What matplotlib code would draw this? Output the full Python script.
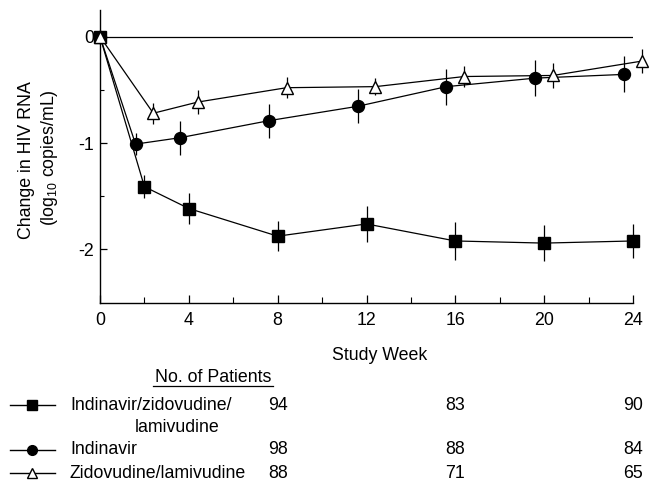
import numpy as np
import matplotlib
matplotlib.use('Agg')
import matplotlib.pyplot as plt
from matplotlib.lines import Line2D
from matplotlib.transforms import blended_transform_factory

plt.rcParams['font.family'] = ['Liberation Sans', 'DejaVu Sans']
plt.rcParams['mathtext.fontset'] = 'custom'
plt.rcParams['mathtext.rm'] = 'Liberation Sans'
plt.rcParams['axes.unicode_minus'] = False

# Indinavir/zidovudine/lamivudine (squares)
weeks_sq = [0, 2, 4, 8, 12, 16, 20, 24]
rna_sq = [0, -1.41, -1.615, -1.875, -1.76, -1.92, -1.94, -1.92]
err_sq = [0, 0.11, 0.15, 0.14, 0.17, 0.18, 0.17, 0.16]

# Indinavir (circles)
weeks_ci = [0, 1.6, 3.6, 7.6, 11.6, 15.6, 19.6, 23.6]
rna_ci = [0, -1.01, -0.95, -0.79, -0.655, -0.47, -0.39, -0.355]
err_ci = [0, 0.10, 0.16, 0.16, 0.16, 0.17, 0.17, 0.17]

# Zidovudine/lamivudine (triangles)
weeks_tr = [0, 2.4, 4.4, 8.4, 12.4, 16.4, 20.4, 24.4]
rna_tr = [0, -0.72, -0.615, -0.48, -0.47, -0.375, -0.365, -0.23]
err_tr = [0, 0.10, 0.11, 0.10, 0.08, 0.10, 0.12, 0.11]

# Patient counts table
group_names = ['Indinavir/zidovudine/', 'Indinavir', 'Zidovudine/lamivudine']
count_weeks = [8, 16, 24]
counts = [[94, 83, 90], [98, 88, 84], [88, 71, 65]]

W, H = 661, 483
fig = plt.figure(figsize=(W / 100, H / 100), dpi=100)
ax = fig.add_axes([100 / W, 1 - 302.7 / H, 533 / W, 292.7 / H])

def fx(px):
    return px / W

def fy(py):
    return 1 - py / H

fs = 12.8
lw = 0.9

# zero reference line
ax.plot([0, 24], [0, 0], color='black', lw=lw, zorder=1)

ax.errorbar(weeks_ci, rna_ci, yerr=err_ci, fmt='-o', color='black', ms=8.6,
            lw=lw, elinewidth=lw, capsize=0, clip_on=False, zorder=3)
ax.errorbar(weeks_sq, rna_sq, yerr=err_sq, fmt='-s', color='black', ms=8.6,
            lw=lw, elinewidth=lw, capsize=0, clip_on=False, zorder=4)
ax.errorbar(weeks_tr, rna_tr, yerr=err_tr, fmt='-^', color='black', mfc='white',
            mec='black', mew=1.0, ms=8, lw=lw, elinewidth=lw, capsize=0,
            clip_on=False, zorder=5)

ax.set_xlim(0, 24)
ax.set_ylim(-2.5, 0.25)
ax.spines['top'].set_visible(False)
ax.spines['right'].set_visible(False)
ax.spines['left'].set_linewidth(1.0)
ax.spines['bottom'].set_linewidth(1.0)

ax.set_xticks(np.arange(0, 25, 4))
ax.set_xticks(np.arange(2, 24, 4), minor=True)
ax.set_yticks([0, -1, -2])
ax.set_yticklabels(['0', '-1', '-2'])
ax.set_yticks([-0.5, -1.5], minor=True)
ax.tick_params(axis='x', which='major', direction='in', length=6, width=0.9,
               labelsize=fs, pad=7)
ax.tick_params(axis='x', which='minor', direction='in', length=4, width=0.8)
ax.tick_params(axis='y', which='major', direction='in', length=5, width=0.9,
               labelsize=fs, pad=4)
ax.tick_params(axis='y', which='minor', direction='in', length=3, width=0.8)

# y axis label (two lines)
fig.text(fx(27), fy(160), 'Change in HIV RNA', rotation=90, ha='center',
         va='center', fontsize=fs)
fig.text(fx(49), fy(158), '(log$_{\\mathregular{10}}$ copies/mL)', rotation=90,
         ha='center', va='center', fontsize=fs)

fig.text(fx(380), fy(355), 'Study Week', ha='center', va='center', fontsize=fs)

# patients table
fig.text(fx(213), fy(378), 'No. of Patients', ha='center', va='center', fontsize=fs)
fig.add_artist(Line2D([fx(153), fx(273)], [fy(386), fy(386)], color='black', lw=0.9))

row_y = [405, 450, 473]
markers = [dict(marker='s', mfc='black', ms=6.5),
           dict(marker='o', mfc='black', ms=7),
           dict(marker='^', mfc='white', ms=6.5)]
for i, name in enumerate(group_names):
    y = fy(row_y[i])
    fig.add_artist(Line2D([fx(10), fx(55)], [y, y], color='black', lw=1.0))
    fig.add_artist(Line2D([fx(32)], [y], color='black', mec='black', mew=1.0,
                          **markers[i]))
    fig.text(fx(70), y, name, ha='left', va='center', fontsize=fs)
fig.text(fx(177), fy(428), 'lamivudine', ha='center', va='center', fontsize=fs)

trans = blended_transform_factory(ax.transData, fig.transFigure)
for i, row in enumerate(counts):
    for wk, n in zip(count_weeks, row):
        ax.text(wk, fy(row_y[i]), str(n), transform=trans, ha='center',
                va='center', fontsize=fs)

fig.savefig('out.png', dpi=100)
